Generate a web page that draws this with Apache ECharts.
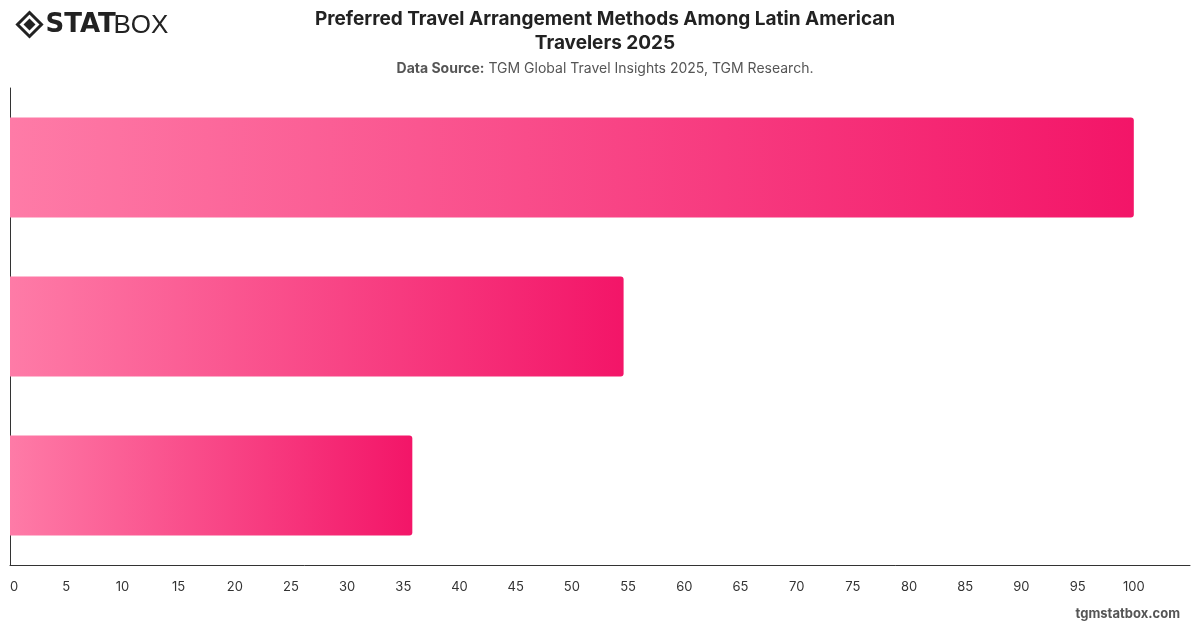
<!DOCTYPE html>
<html>
<head>
<meta charset="utf-8">
<script src="https://cdn.jsdelivr.net/npm/echarts@6/dist/echarts.min.js"></script>
<style>
  html, body { margin: 0; padding: 0; background: #fff; }
  #main { width: 1200px; height: 628px; }
</style>
</head>
<body>
<div id="main"></div>
<script>
// categories are not printed on the chart, top to bottom
var methods = ['Online Travel Agencies', 'Direct with Providers', 'Traditional Travel Agents'];
var shares = [100, 54.6, 35.8];
var tickStep = 5;
var axisMax = 105;

var chart = echarts.init(document.getElementById('main'));

var barColor = new echarts.graphic.LinearGradient(0, 0, 1, 0, [
    {offset: 0, color: '#fe7ba7'},
    {offset: 1, color: '#f31568'}
]);

var option = {
    animation: false,
    textStyle: {fontFamily: 'Inter, "Liberation Sans", sans-serif'},
    title: {
        text: 'Preferred Travel Arrangement Methods Among Latin American\nTravelers 2025',
        left: 600,
        top: 2,
        textAlign: 'center',
        textStyle: {fontSize: 19, fontWeight: 'bold', color: '#222', lineHeight: 24},
        subtext: '{b|Data Source:} TGM Global Travel Insights 2025, TGM Research.',
        itemGap: 7,
        subtextStyle: {
            fontSize: 14, color: '#555',
            rich: {b: {fontSize: 14, fontWeight: 'bold', color: '#555'}}
        }
    },
    grid: {left: 10, right: 10, top: 88, bottom: 63, containLabel: false},
    xAxis: {
        type: 'value',
        min: 0,
        max: axisMax,
        interval: tickStep,
        splitLine: {show: false},
        axisLine: {show: true, lineStyle: {color: '#333', width: 1}},
        axisTick: {show: false},
        axisLabel: {
            color: '#333', fontSize: 13, margin: 16,
            showMaxLabel: false,
            alignMinLabel: 'left'
        }
    },
    yAxis: {
        type: 'category',
        data: methods,
        inverse: true,
        axisLine: {show: true, lineStyle: {color: '#333', width: 1}},
        axisTick: {show: false},
        axisLabel: {show: false}
    },
    series: [{
        type: 'bar',
        data: shares,
        barCategoryGap: '37%',
        itemStyle: {color: barColor, borderRadius: [0, 3, 3, 0]}
    }],
    graphic: [
        {
            type: 'group', left: 15, top: 10,
            children: [
                {type: 'polygon', shape: {points: [[12, 0], [24, 12], [12, 24], [0, 12]]},
                 style: {fill: 'none', stroke: '#222', lineWidth: 3}},
                {type: 'polygon', shape: {points: [[12, 6], [18, 12], [12, 18], [6, 12]]},
                 style: {fill: '#222'}},
                {type: 'text', x: 28, y: 0,
                 style: {text: 'STAT', font: '900 26px "DejaVu Sans", sans-serif', fill: '#222'}},
                {type: 'text', x: 96, y: 0,
                 style: {text: 'BOX', font: '300 26px "Liberation Sans", sans-serif', fill: '#222'}}
            ]
        },
        {
            type: 'text', right: 20, top: 608,
            style: {text: 'tgmstatbox.com', font: 'bold 13px Inter, sans-serif', fill: '#555'}
        }
    ]
};

chart.setOption(option);
</script>
</body>
</html>
